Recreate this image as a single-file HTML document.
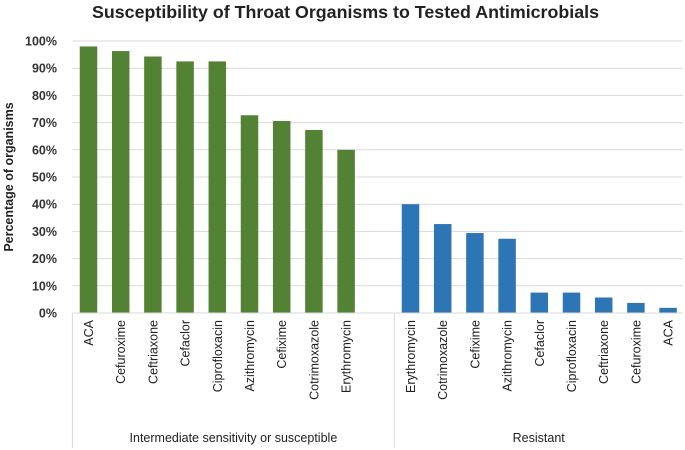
<!DOCTYPE html>
<html><head><meta charset="utf-8"><style>
body{margin:0;background:#fff;}
svg{display:block;font-family:"Liberation Sans",sans-serif;}
</style></head><body>
<svg id="chart" width="685" height="450"></svg>
<script>
const categories=["ACA","Cefuroxime","Ceftriaxone","Cefaclor","Ciprofloxacin","Azithromycin","Cefixime","Cotrimoxazole","Erythromycin","","Erythromycin","Cotrimoxazole","Cefixime","Azithromycin","Cefaclor","Ciprofloxacin","Ceftriaxone","Cefuroxime","ACA"];
const susceptibleValues=[98,96.3,94.3,92.5,92.5,72.7,70.6,67.3,60];
const resistantValues=[40,32.7,29.4,27.3,7.5,7.5,5.7,3.7,1.9];
const tickLabels=["0%","10%","20%","30%","40%","50%","60%","70%","80%","90%","100%"];
const groups=["Intermediate sensitivity or susceptible","Resistant"];
const NS="http://www.w3.org/2000/svg";
const svg=document.getElementById('chart');
const x0=72.4,slot=32.2,yTop=41,yBot=313;
const y=v=>yBot-(v/100)*(yBot-yTop);
const xc=i=>x0+(i+0.5)*slot;
function mk(t,a,txt){const e=document.createElementNS(NS,t);for(const k in a)e.setAttribute(k,a[k]);if(txt!==undefined)e.textContent=txt;svg.appendChild(e);return e;}
let e=mk('text',{x:92,y:18,'font-size':'17.5','font-weight':'bold',fill:'#222',textLength:'507',lengthAdjust:'spacingAndGlyphs'},'Susceptibility of Throat Organisms to Tested Antimicrobials');


tickLabels.forEach((t,i)=>{const v=i*10;
 const g=mk('line',{x1:x0,x2:683,y1:y(v),y2:y(v),stroke:'#d9d9d9','stroke-width':1});
 
 
 const l=mk('text',{x:57,y:y(v)+4.5,'text-anchor':'end','font-size':'12.5','font-weight':'bold',fill:'#333'},t);
 
 
});
e=mk('text',{transform:'translate(13,177) rotate(-90)','text-anchor':'middle','font-size':'12.5','font-weight':'bold',fill:'#222'},'Percentage of organisms');


const bw=17.5;
susceptibleValues.forEach((v,i)=>{const r=mk('rect',{x:xc(i)-bw/2,y:y(v),width:bw,height:yBot-y(v),fill:'#548235'});
 
 });
resistantValues.forEach((v,j)=>{const i=j+10;const r=mk('rect',{x:xc(i)-bw/2,y:y(v),width:bw,height:yBot-y(v),fill:'#2e75b6'});
 
 });
e=mk('line',{x1:x0,x2:683,y1:yBot,y2:yBot,stroke:'#d9d9d9'});


[x0,x0+10*slot].forEach(xx=>{const d=mk('line',{x1:xx,x2:xx,y1:yBot,y2:448,stroke:'#d9d9d9'});
 
 });
categories.forEach((c,i)=>{if(!c)return;const t=mk('text',{transform:`translate(${xc(i)+4.5},320) rotate(-90)`,'text-anchor':'end','font-size':'12.5',fill:'#222'},c);
 
 });
e=mk('text',{x:(x0+x0+10*slot)/2,y:442,'text-anchor':'middle','font-size':'12.5',fill:'#222'},groups[0]);


e=mk('text',{x:(x0+10*slot+683)/2,y:442,'text-anchor':'middle','font-size':'12.5',fill:'#222'},groups[1]);


</script>
</body></html>
